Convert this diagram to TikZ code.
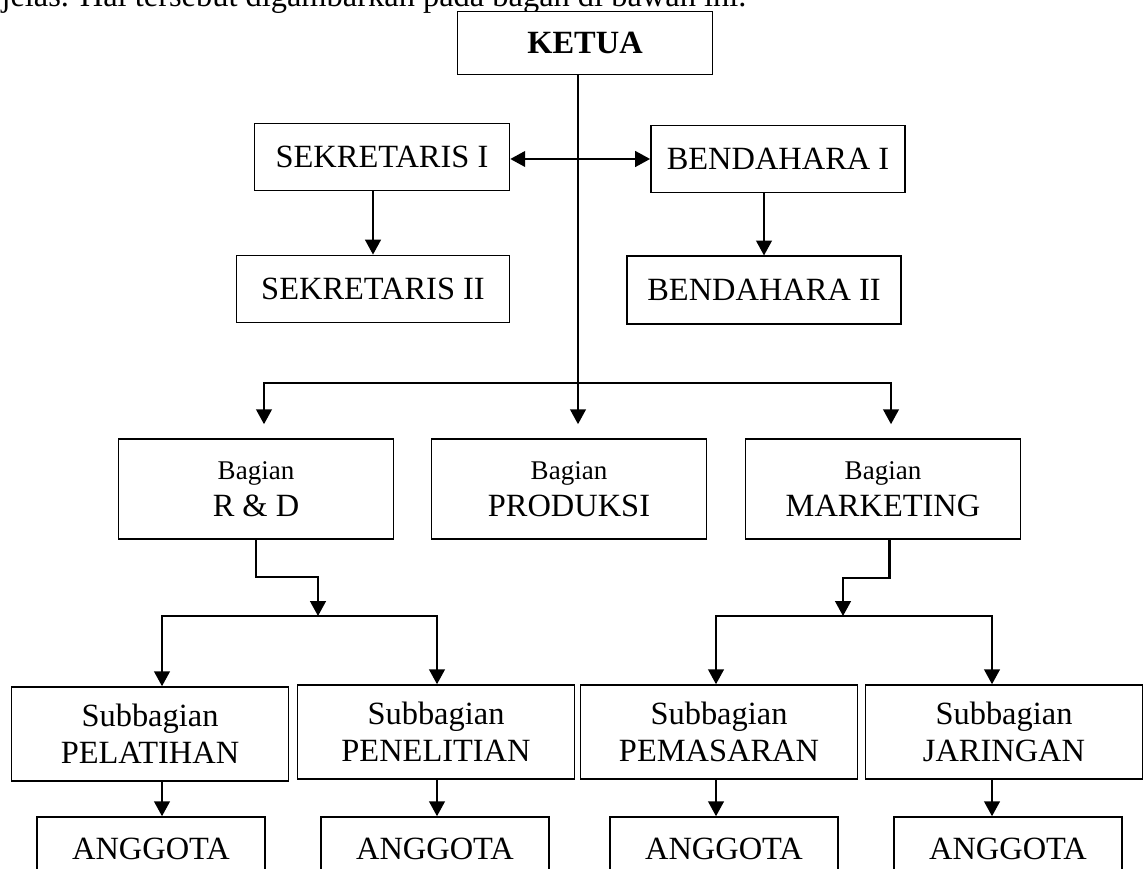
\documentclass[tikz,border=0pt]{standalone}
\usepackage{fontspec}
\setmainfont{Liberation Serif}
\usetikzlibrary{arrows.meta,positioning}

\begin{document}
\begin{tikzpicture}[x=0.37pt, y=-0.37pt,
    unit/.style = {rectangle, draw, line width=0.55pt, inner sep=0pt, align=center},
    part/.style = {unit, minimum width=101.8pt, minimum height=37pt},
    subpart/.style = {unit, minimum width=102.4pt, minimum height=34.8pt},
    member/.style = {unit, minimum width=84.4pt, minimum height=23.7pt},
    link/.style = {-{Triangle[length=5.5pt, width=5.8pt]}, line width=0.75pt},
    stem/.style = {line width=0.45pt},
    font=\fontsize{12}{13.8}\selectfont]
  \useasboundingbox (0, 0) rectangle (1144, 869);
  \clip (0, 0) rectangle (1144, 869);

  % Text line above the chart, cut by the page edge.
  \node at (1, 6.5) [anchor=base west, inner sep=0pt, name=Intro] {jelas. Hal tersebut digambarkan pada bagan di bawah ini.};

  % Boxes.
  \node at (585, 43) [unit, fill=white, minimum width=94.4pt, minimum height=23.4pt, name=Ketua] {\textbf{KETUA}};
  \node at (382, 157) [unit, minimum width=94.4pt, minimum height=24.8pt, name=SekretarisI] {SEKRETARIS I};
  \node at (373, 289) [unit, minimum width=100.9pt, minimum height=24.9pt, name=SekretarisII] {SEKRETARIS II};
  \node at (778, 159) [unit, minimum width=94.1pt, minimum height=24.9pt, name=BendaharaI] {BENDAHARA I};
  \node at (764, 290) [unit, minimum width=101.4pt, minimum height=25pt, name=BendaharaII] {BENDAHARA II};

  \node at (256, 489) [part, name=BagianRD] {{\fontsize{10}{12}\selectfont Bagian}\\R \& D};
  \node at (569, 489) [part, name=BagianProduksi] {{\fontsize{10}{12}\selectfont Bagian}\\PRODUKSI};
  \node at (883, 489) [part, name=BagianMarketing] {{\fontsize{10}{12}\selectfont Bagian}\\MARKETING};

  \node at (150, 734) [subpart, name=SubPelatihan] {Subbagian\\PELATIHAN};
  \node at (436, 732) [subpart, name=SubPenelitian] {Subbagian\\PENELITIAN};
  \node at (719, 732) [subpart, name=SubPemasaran] {Subbagian\\PEMASARAN};
  \node at (1004, 732) [subpart, name=SubJaringan] {Subbagian\\JARINGAN};

  \node at (151, 849) [member, name=AnggotaPelatihan] {ANGGOTA};
  \node at (435, 849) [member, name=AnggotaPenelitian] {ANGGOTA};
  \node at (724, 849) [member, name=AnggotaPemasaran] {ANGGOTA};
  \node at (1008, 849) [member, name=AnggotaJaringan] {ANGGOTA};

  % Junctions and columns of the connectors.
  \coordinate (hub) at (578, 159);
  \coordinate (split) at (578, 383);
  \coordinate (colRD) at (264, 383);
  \coordinate (colMarketing) at (891, 383);
  \coordinate (stepRD) at (318, 577);
  \coordinate (splitRD) at (318, 616);
  \coordinate (outMarketing) at ([xshift=2.4pt]BagianMarketing.south);
  \coordinate (stepMarketing) at (843, 578);
  \coordinate (splitMarketing) at (843, 616);
  \coordinate (colPelatihan) at (162, 616);
  \coordinate (colPenelitian) at (437, 616);
  \coordinate (colPemasaran) at (716, 616);
  \coordinate (colJaringan) at (992, 616);

  % Ketua to sekretaris and bendahara.
  \draw [stem] (Ketua.south -| split)
               -- (split);
  \draw [link] (hub)
               -- (hub -| SekretarisI.east);
  \draw [link] (hub)
               -- (hub -| BendaharaI.west);
  \draw [link] (SekretarisI.south -| SekretarisII.north)
               -- (SekretarisII.north);
  \draw [link] (BendaharaI.south -| BendaharaII.north)
               -- (BendaharaII.north);

  % Ketua to the three bagian.
  \draw [link, shorten >=5.2pt] (split)
               -| (BagianRD.north -| colRD);
  \draw [link, shorten >=5.2pt] (split)
               -- (BagianProduksi.north -| split);
  \draw [link, shorten >=5.2pt] (split)
               -| (BagianMarketing.north -| colMarketing);

  % Bagian R & D to its subbagian.
  \draw [link] (BagianRD.south)
               -- (BagianRD.south |- stepRD)
               -| (splitRD);
  \draw [link] (splitRD)
               -| (SubPelatihan.north -| colPelatihan);
  \draw [link] (splitRD)
               -| (SubPenelitian.north -| colPenelitian);

  % Bagian marketing to its subbagian.
  \draw [link] (outMarketing)
               -- (outMarketing |- stepMarketing)
               -| (splitMarketing);
  \draw [link] (splitMarketing)
               -| (SubPemasaran.north -| colPemasaran);
  \draw [link] (splitMarketing)
               -| (SubJaringan.north -| colJaringan);

  % Subbagian to anggota.
  \draw [link] (SubPelatihan.south -| colPelatihan)
               -- (AnggotaPelatihan.north -| colPelatihan);
  \draw [link] (SubPenelitian.south -| colPenelitian)
               -- (AnggotaPenelitian.north -| colPenelitian);
  \draw [link] (SubPemasaran.south -| colPemasaran)
               -- (AnggotaPemasaran.north -| colPemasaran);
  \draw [link] (SubJaringan.south -| colJaringan)
               -- (AnggotaJaringan.north -| colJaringan);
\end{tikzpicture}
\end{document}
